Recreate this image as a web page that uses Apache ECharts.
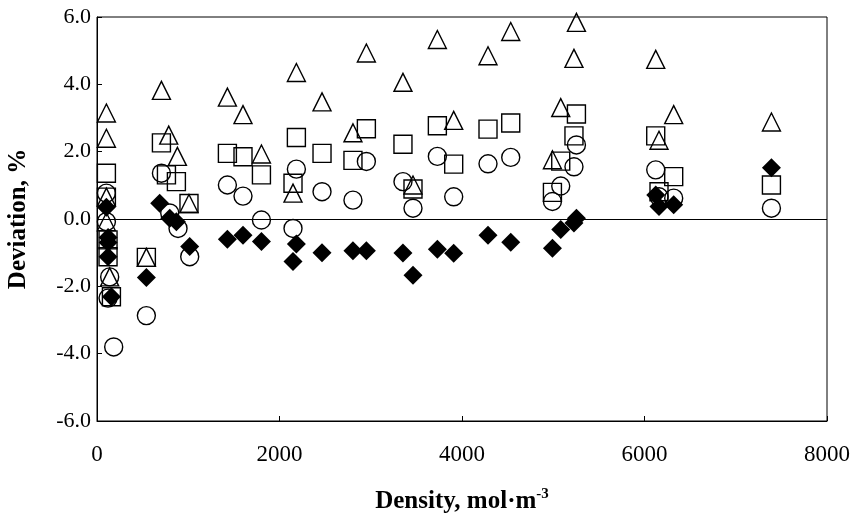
<!DOCTYPE html>
<html>
<head>
<meta charset="utf-8">
<script src="https://cdn.jsdelivr.net/npm/echarts@6/dist/echarts.min.js"></script>
<style>html,body{margin:0;padding:0;background:#fff;}#c{width:851px;height:513px;}</style>
</head>
<body>
<div id="c"></div>
<script>
// Density (mol·m^-3) and deviation (%) per marker series
const triX = [103,103,103,103,139, 541,706,786,881,1008, 1429,1600,1802,2148,2185,2466,2805,2952,3353,3463,3730,3909,4285,4534,4991,5082,5227,5254,6123,6159,6320,7391];
const triY = [3.15,2.40,0.65,-0.08,-1.72, -1.14,3.82,2.49,1.86,0.46, 3.62,3.10,1.93,0.77,4.35,3.48,2.56,4.93,4.06,1.01,5.33,2.93,4.85,5.57,1.76,3.31,4.77,5.84,4.74,2.34,3.10,2.88];

const sqX = [103,103,121,121,158, 541,706,761,870,1008, 1429,1600,1802,2148,2185,2466,2805,2952,3353,3463,3730,3909,4285,4534,4991,5082,5227,5254,6123,6159,6320,7391];
const sqY = [1.36,0.65,-0.62,-1.12,-2.31, -1.14,2.26,1.31,1.11,0.46, 1.95,1.85,1.31,1.06,2.42,1.95,1.74,2.68,2.22,0.89,2.77,1.63,2.67,2.85,0.79,1.72,2.47,3.12,2.47,0.81,1.26,1.01];

const cirX = [103,103,139,121,183, 541,706,797,888,1016, 1429,1600,1802,2148,2185,2466,2805,2952,3353,3463,3730,3909,4285,4534,4991,5082,5227,5254,6123,6159,6320,7391];
const cirY = [0.77,-0.08,-1.72,-2.35,-3.80, -2.87,1.36,0.18,-0.28,-1.12, 1.01,0.68,-0.03,-0.28,1.48,0.81,0.56,1.71,1.11,0.32,1.86,0.66,1.64,1.83,0.52,0.98,1.55,2.20,1.46,0.66,0.62,0.32];

const diaX = [103,121,121,121,158, 541,687,797,870,1016, 1429,1600,1802,2148,2185,2466,2805,2952,3353,3463,3730,3909,4285,4534,4991,5082,5227,5254,6123,6159,6320,7391];
const diaY = [0.35,-0.55,-0.70,-1.12,-2.31, -1.74,0.47,0.02,-0.08,-0.82, -0.60,-0.48,-0.67,-1.26,-0.74,-1.00,-0.94,-0.94,-1.01,-1.67,-0.90,-1.02,-0.48,-0.69,-0.87,-0.31,-0.12,0.02,0.71,0.37,0.42,1.52];

const xTicks = [0, 2000, 4000, 6000, 8000];
const yTicks = [-6, -4, -2, 0, 2, 4, 6];

function pairs(xs, ys) { return xs.map((x, i) => [x, ys[i]]); }

const font = 'Liberation Serif';
const chart = echarts.init(document.getElementById('c'), null, {renderer: 'canvas'});
const openStyle = {color: 'rgba(0,0,0,0)', borderColor: '#000', borderWidth: 1.4, opacity: 1};

chart.setOption({
  animation: false,
  backgroundColor: '#fff',
  grid: {left: 97, right: 24, top: 17, bottom: 92, show: true, borderColor: '#000', borderWidth: 1, backgroundColor: 'transparent', containLabel: false, outerBoundsMode: 'none'},
  xAxis: {
    type: 'value', min: xTicks[0], max: xTicks[xTicks.length - 1], interval: 2000,
    name: 'Density, mol·m{sup|-3}', nameLocation: 'middle', nameGap: 66,
    nameTextStyle: {fontFamily: font, fontWeight: 'bold', fontSize: 25, color: '#000',
      rich: {sup: {fontFamily: font, fontWeight: 'bold', fontSize: 15, color: '#000', padding: [0, 0, 14, 0]}}},
    axisLine: {onZero: false, lineStyle: {color: '#000', width: 1}},
    axisTick: {inside: true, length: 5, lineStyle: {color: '#000'}},
    axisLabel: {fontFamily: font, fontSize: 23, color: '#000', margin: 22, formatter: v => String(v), hideOverlap: false},
    splitLine: {show: false}
  },
  yAxis: {
    type: 'value', min: yTicks[0], max: yTicks[yTicks.length - 1], interval: 2,
    name: 'Deviation, %', nameLocation: 'middle', nameGap: 66,
    nameTextStyle: {fontFamily: font, fontWeight: 'bold', fontSize: 25, color: '#000'},
    axisLine: {onZero: false, lineStyle: {color: '#000', width: 1}},
    axisTick: {inside: true, length: 5, lineStyle: {color: '#000'}},
    axisLabel: {fontFamily: font, fontSize: 22, color: '#000', margin: 6, formatter: v => v.toFixed(1)},
    splitLine: {show: false}
  },
  series: [
    {type: 'scatter', name: 'tri', symbol: 'triangle', symbolSize: 18, data: pairs(triX, triY), itemStyle: openStyle, z: 3,
      markLine: {silent: true, symbol: 'none', label: {show: false}, lineStyle: {color: '#000', width: 1.2, type: 'solid'}, data: [{yAxis: 0}]}},
    {type: 'scatter', name: 'sq', symbol: 'rect', symbolSize: 18, data: pairs(sqX, sqY), itemStyle: openStyle, z: 3},
    {type: 'scatter', name: 'cir', symbol: 'circle', symbolSize: 18, data: pairs(cirX, cirY), itemStyle: openStyle, z: 3},
    {type: 'scatter', name: 'dia', symbol: 'diamond', symbolSize: 19, data: pairs(diaX, diaY), itemStyle: {color: '#000', opacity: 1}, z: 4}
  ]
});
</script>
</body>
</html>
